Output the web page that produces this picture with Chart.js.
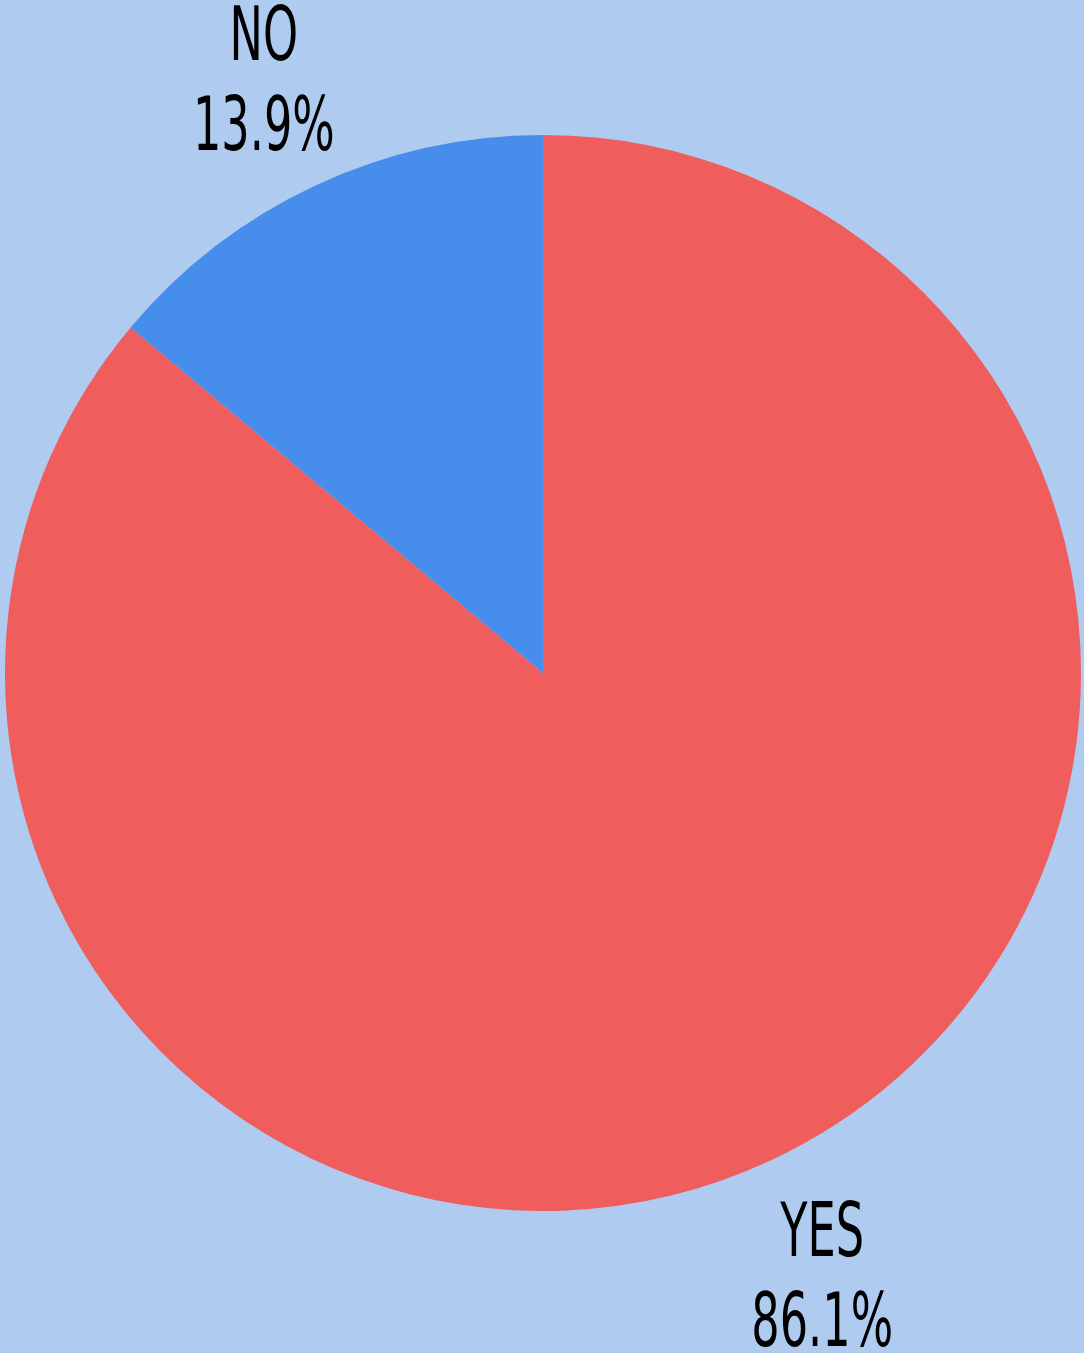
<!DOCTYPE html>
<html>
<head>
<meta charset="utf-8">
<script src="https://cdn.jsdelivr.net/npm/chart.js@4/dist/chart.umd.min.js"></script>
<style>
  html, body { margin: 0; padding: 0; background: #afcbf0; }
  canvas { display: block; }
</style>
</head>
<body>
<canvas id="myChart" width="1084" height="1353"></canvas>
<script>
// answers, in drawing order (clockwise from 12 o'clock)
const labels = ['YES', 'NO'];
const values = [86.1, 13.9];
const colors = ['#ef5d5d', '#478deb'];

// draws "LABEL" / "xx.x%" outside each slice, along its middle angle
const outsideLabels = {
    id: 'outsideLabels',
    afterDatasetsDraw(chart) {
        const ctx = chart.ctx;
        const meta = chart.getDatasetMeta(0);
        ctx.save();
        ctx.fillStyle = '#000';
        ctx.textAlign = 'center';
        ctx.textBaseline = 'alphabetic';
        ctx.font = '74px "Liberation Sans Narrow", "DejaVu Sans Condensed", sans-serif';
        meta.data.forEach(function(arc, i) {
            const p = arc.getProps(['x', 'y', 'startAngle', 'endAngle', 'outerRadius'], true);
            const mid = (p.startAngle + p.endAngle) / 2;
            const r = p.outerRadius * 1.227;
            const x = p.x + Math.cos(mid) * r;
            const y = p.y + Math.sin(mid) * r;
            const lines = [labels[i], values[i].toFixed(1) + '%'];
            lines.forEach(function(txt, k) {
                ctx.save();
                ctx.translate(x, y - 15 + k * 90);
                ctx.scale(0.67, 1);
                ctx.fillText(txt, 0, 0);
                ctx.restore();
            });
        });
        ctx.restore();
    }
};

const ctx = document.getElementById('myChart').getContext('2d');
const myChart = new Chart(ctx, {
    type: 'pie',
    data: {
        labels: labels,
        datasets: [{
            data: values,
            backgroundColor: colors,
            borderWidth: 0
        }]
    },
    options: {
        responsive: false,
        animation: false,
        layout: { padding: { left: 5, right: 3, top: 135, bottom: 142 } },
        plugins: {
            legend: { display: false },
            tooltip: { enabled: false }
        }
    },
    plugins: [outsideLabels]
});
</script>
</body>
</html>
